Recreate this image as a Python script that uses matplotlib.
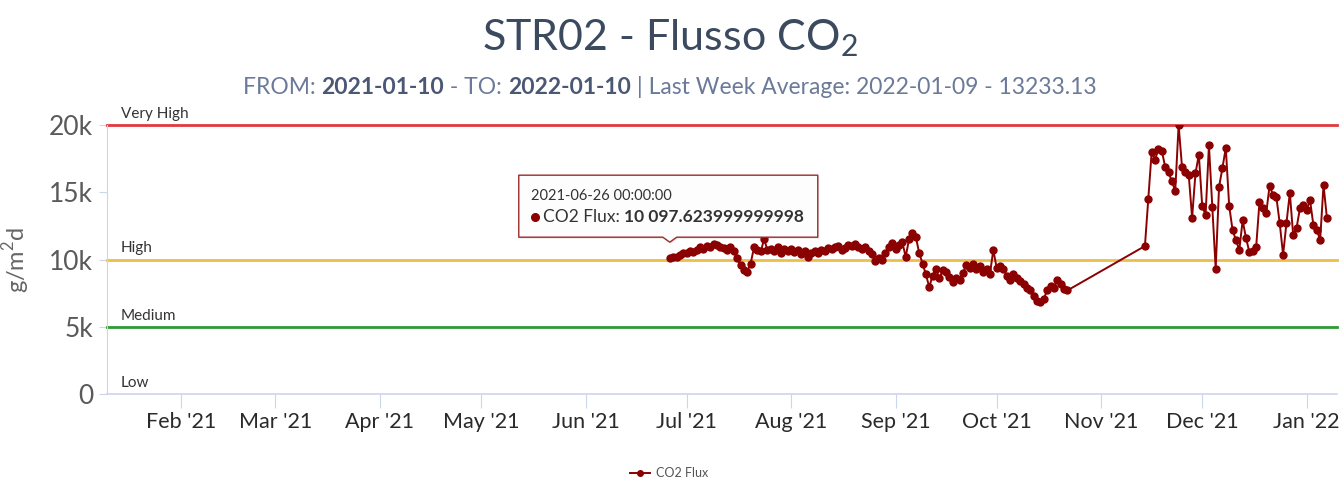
import matplotlib
matplotlib.use("Agg")
import matplotlib.pyplot as plt
import matplotlib.dates as mdates
from matplotlib.patches import Polygon
from matplotlib.lines import Line2D
from matplotlib.transforms import IdentityTransform
import pandas as pd

# ---------------- data ----------------
range_start = "2021-01-10"
range_end = "2022-01-10"

seg1_start = "2021-06-26"
seg1_values = [
    10098, 10200, 10150, 10350, 10500,
    10450, 10650, 10550, 10700, 10900,
    10800, 11000, 10950, 11150, 11050, 10900,
    10850, 10700, 10950, 10600,
    10100, 9600, 9200, 9100, 9700,
    10900, 10700, 10600, 11500,
    10700, 10800, 10600, 10900, 10500, 10750, 10650, 10800, 10550,
    10700, 10400, 10600, 10150, 10500, 10650,
    10500, 10700, 10600, 10850, 10750, 10900, 11000, 10700, 10850, 11100, 11000,
    11150, 10900, 10800, 10950, 10600, 10400,
    9900, 10100, 9950, 10500,
    10900, 11200, 10800, 11100, 11300, 10200, 11500, 12000,
    11700, 10500, 9700, 8900, 7950,
    8800, 9300, 8600, 9200, 9100, 8700, 8300, 8600,
    8500, 9000, 9600, 9400, 9700, 9300, 9500, 9100, 9300, 8900,
    10700,
    9400, 9500, 9300, 8800,
    8500, 8900, 8600, 8400, 8200, 7900,
    7700, 7300, 6900, 6850, 7100,
    7700, 8000, 7900, 8500, 8200, 7800, 7700,
]

seg2_start = "2021-11-14"
seg2_values = [
    11000, 14500, 18000, 17400, 18200, 18100, 16900, 16500, 15800, 15100,
    20000, 16900, 16500, 16300, 13100, 16400, 17800, 14000, 13300, 18500,
    13900, 9300, 15400, 16800, 18300, 14000, 12200, 11450, 10700, 12900,
    11600, 10550, 10600, 10900, 14300, 13800, 13450, 15500, 14800, 14650,
    12700, 10350, 12700, 14950, 11800, 12350, 13800, 14050, 13700, 14400,
    12550, 12200, 11450, 15550, 13100,
]

plot_line_values = [20000, 10000, 5000, 0]
plot_line_labels = ["Very High", "High", "Medium", "Low"]
plot_line_colors = ["#e0393e", "#ecbe4a", "#2f9a36", None]

y_ticks = [0, 5000, 10000, 15000, 20000]
y_tick_labels = ["0", "5k", "10k", "15k", "20k"]

series_name = "CO2 Flux"
tooltip_date = "2021-06-26 00:00:00"
tooltip_value = "10 097.623999999998"

title_text = "STR02 - Flusso CO$_\\mathregular{2}$"
subtitle_parts = [
    ("FROM: ", "normal"),
    ("2021-01-10", "bold"),
    (" - TO: ", "normal"),
    ("2022-01-10", "bold"),
    (" | Last Week Average: 2022-01-09 - 13233.13", "normal"),
]

# ---------------- build ----------------
dates1 = pd.date_range(seg1_start, periods=len(seg1_values), freq="D")
dates2 = pd.date_range(seg2_start, periods=len(seg2_values), freq="D")
dates = list(dates1) + list(dates2)
values = seg1_values + seg2_values

FONT = ["Lato", "DejaVu Sans"]
plt.rcParams["font.family"] = FONT
plt.rcParams["mathtext.fontset"] = "custom"
plt.rcParams["mathtext.rm"] = "Lato"

W, H = 1339, 480
fig = plt.figure(figsize=(W / 100, H / 100), dpi=100)
fig.patch.set_facecolor("white")
ax = fig.add_axes([107 / W, 86 / H, (1337 - 107) / W, 269 / H])

ax.set_xlim(pd.Timestamp(range_start), pd.Timestamp(range_end))
ax.set_ylim(0, 20000)

for sp in ["top", "right"]:
    ax.spines[sp].set_visible(False)
ax.spines["left"].set_color("#ccd6eb")
ax.spines["bottom"].set_color("#ccd6eb")
ax.spines["bottom"].set_linewidth(1.2)

# plot lines
for v, lab, col in zip(plot_line_values, plot_line_labels, plot_line_colors):
    if col is not None:
        ax.axhline(v, color=col, lw=2, zorder=2, clip_on=False)
    ax.annotate(lab, xy=(0, v), xycoords=("axes fraction", "data"),
                xytext=(10, 3), textcoords="offset points",
                fontsize=11, color="#333333", va="bottom", ha="left")

# series
ax.plot(dates, values, color="#8b0000", lw=1.4, marker="o", ms=5,
        markeredgecolor="#8b0000", zorder=4)

# axes ticks
ax.set_yticks(y_ticks)
ax.set_yticklabels(y_tick_labels)
ax.tick_params(axis="y", length=6, color="#ccd6eb", labelsize=19,
               labelcolor="#5a5a5a", pad=4)
ax.xaxis.set_major_locator(mdates.MonthLocator())
ax.xaxis.set_major_formatter(mdates.DateFormatter("%b '%y"))
ax.tick_params(axis="x", length=10, color="#ccd6eb", labelsize=15.5,
               labelcolor="#2a2a2a", pad=3)
ax.set_ylabel("g/m$^\\mathregular{2}$d", fontsize=17, color="#666666", labelpad=12)

# title and subtitle
fig.text(0.5, 1 - 38 / H, title_text, ha="center", va="center",
         fontsize=31, color="#3b4a5e")

sub_y = 1 - 87 / H
texts = []
first = None
prev = None
for s, w in subtitle_parts:
    col = "#4b5875" if w == "bold" else "#6b7a99"
    if prev is None:
        t = fig.text(0.0, sub_y, s, ha="left", va="center", fontsize=16.5,
                     color=col, fontweight=w)
        first = t
    else:
        t = fig.text(0, 0, s, ha="left", va="bottom", fontsize=16.5,
                     color=col, fontweight=w)
        t.set_transform(IdentityTransform())
    texts.append(t)
    prev = t

fig.canvas.draw()
r = fig.canvas.get_renderer()
x_cur = first.get_window_extent(r).x1
base_y = first.get_window_extent(r).y0
widths = [first.get_window_extent(r).width]
for t in texts[1:]:
    t.set_position((x_cur, base_y))
    fig.canvas.draw()
    bb = t.get_window_extent(r)
    x_cur = bb.x1
    widths.append(bb.width)
total = sum(widths)
shift = (W - total) / 2 - first.get_window_extent(r).x0
first.set_x(first.get_position()[0] + shift / W)
fig.canvas.draw()
x_cur = first.get_window_extent(r).x1
for t in texts[1:]:
    t.set_position((x_cur, base_y))
    fig.canvas.draw()
    x_cur = t.get_window_extent(r).x1

# tooltip anchored on first point
ax0, ay0 = ax.transData.transform((mdates.date2num(dates[0]), values[0]))
L, R = ax0 - 151, ax0 + 148
T, B = ay0 + 83, ay0 + 21
tip = ay0 + 16
poly_pts = [(L, B), (ax0 - 7, B), (ax0, tip), (ax0 + 7, B), (R, B), (R, T), (L, T)]
shadow = Polygon([(x + 1.5, y - 1.5) for x, y in poly_pts], closed=True,
                 facecolor="#00000018", edgecolor="none",
                 transform=IdentityTransform(), zorder=9)
fig.add_artist(shadow)
box = Polygon(poly_pts, closed=True, facecolor="#fdfdfd", edgecolor="#9b2a2a",
              lw=1, joinstyle="round", transform=IdentityTransform(), zorder=10)
fig.add_artist(box)
fig.text(L + 12, ay0 + 62, tooltip_date, transform=IdentityTransform(),
         fontsize=10.5, color="#333333", va="center", ha="left", zorder=11)
fig.add_artist(Line2D([L + 16], [ay0 + 41], marker="o", ms=5.5, color="#8b0000",
                      transform=IdentityTransform(), zorder=11))
t1 = fig.text(L + 24, ay0 + 41, series_name + ": ", transform=IdentityTransform(),
              fontsize=12.5, color="#333333", va="center", ha="left", zorder=11)
fig.canvas.draw()
bb = t1.get_window_extent(r)
fig.text(bb.x1, ay0 + 41, tooltip_value, transform=IdentityTransform(),
         fontsize=12.5, color="#333333", fontweight="bold", va="center",
         ha="left", zorder=11)

# legend
handle = Line2D([], [], color="#8b0000", lw=1.4, marker="o", ms=4)
fig.legend([handle], [series_name], loc="center", bbox_to_anchor=(0.5, 7 / H),
           frameon=False, fontsize=9, handlelength=1.6, labelcolor="#555555",
           handletextpad=0.5)

fig.savefig("out.png", dpi=100, facecolor="white")
